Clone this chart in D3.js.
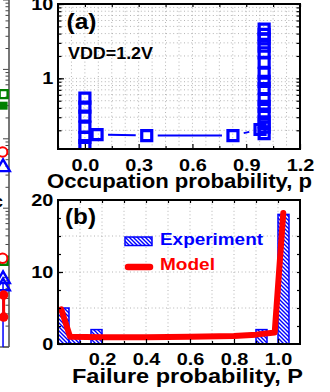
<!DOCTYPE html>
<html><head><meta charset="utf-8">
<script src="https://cdn.jsdelivr.net/npm/d3@7"></script>
<style>
html,body{margin:0;padding:0;background:#fff;}
svg{display:block;}
text{font-family:"Liberation Sans",Arial,sans-serif;font-weight:bold;fill:#000;}
</style></head><body>
<svg id="chart" width="330" height="392"></svg>
<script>
// ---- Panel (a): occupation probability per trap at VDD = 1.2 V ----
const occTicks = [0.0, 0.3, 0.6, 0.9, 1.2];
const occMinorTicks = [-0.15, 0.15, 0.45, 0.75, 1.05];
const occYTicks = [1, 10];
const occLowP = 0.0;
const occLowValues = [0.54, 0.41, 0.31, 0.22, 0.16, 0.124];
const occMidP = [0.068, 0.345, 0.826, 0.977];
const occMidValues = [0.175, 0.17, 0.17, 0.205];
const occHighP = 1.0;
const occHighValues = [4.6, 3.9, 3.4, 2.7, 2.2, 1.64, 1.17, 0.91, 0.73, 0.52, 0.42, 0.33, 0.26, 0.22, 0.18];

// ---- Panel (b): failure probability histogram and model ----
const failXTicks = [0.2, 0.4, 0.6, 0.8, 1.0];
const failYTicks = [0, 10, 20];
const failBinStart = [0.0, 0.05, 0.15, 0.9, 1.0];
const failCounts = [5, 1, 2, 2, 18];
const failBinWidth = 0.05;
const modelP = [0.015, 0.055, 0.2, 0.4, 0.6, 0.8, 0.9, 0.985, 1.024];
const modelCounts = [4.8, 1.0, 0.95, 0.95, 1.0, 1.1, 1.3, 1.6, 18.2];

// ---- Neighbouring panel, right edge only ----
const sideP = 0.97;
const sideGreenOpen = [4.4, 0.0175];
const sideGreenFilled = [3.0];
const sideRedOpen = [0.645, 0.019];
const sideBlueTri = [0.39, 0.0095, 0.0075];
const sideRedFilled = [0.0056, 0.0027];
const sideBlueStem = [0.0084, 0.001];

const BLUE = "#0000ff", RED = "#ff0000", GREEN = "#008000";
const svg = d3.select("#chart");
svg.append("rect").attr("width", 330).attr("height", 392).attr("fill", "#fff");

const defs = svg.append("defs");
const hatch = defs.append("pattern").attr("id", "hatch")
  .attr("patternUnits", "userSpaceOnUse").attr("width", 4).attr("height", 4);
hatch.append("rect").attr("width", 4).attr("height", 4).attr("fill", "#fff");
hatch.append("path").attr("d", "M-1,-1L5,5M-1,3L1,5M3,-1L5,1")
  .attr("stroke", BLUE).attr("stroke-width", 1.4);

function styleTickText(g, size, sx) {
  g.selectAll(".tick text").attr("font-size", size).attr("fill", "#000")
    .attr("font-family", '"Liberation Sans",Arial,sans-serif').attr("font-weight", "bold")
    .attr("transform", `scale(${sx},1)`);
}
function cleanAxis(g) {
  g.select(".domain").remove();
  g.selectAll(".tick line").attr("stroke", "#000").attr("stroke-width", 1.2);
}
function dottedGrid(g, lines) {
  g.selectAll("line").data(lines).join("line")
    .attr("x1", d => d[0]).attr("y1", d => d[1]).attr("x2", d => d[2]).attr("y2", d => d[3])
    .attr("stroke", "#b4b4b4").attr("stroke-width", 1).attr("stroke-dasharray", "1,2.6");
}

// ================= Neighbour panel (clipped at the left edge) =================
{
  const nx = d3.scaleLinear().domain([0, 1]).range([-190, 9]);
  const ny = d3.scaleLog().domain([1e-3, 1e2]).range([347, 0]);
  const g = svg.append("g");
  const ticks = ny.ticks();
  g.selectAll("line.t").data(ticks).join("line")
    .attr("x1", nx(1)).attr("x2", d => nx(1) - (Math.abs(Math.log10(d) % 1) < 1e-6 ? 6 : 3.5))
    .attr("y1", d => ny(d)).attr("y2", d => ny(d)).attr("stroke", "#444").attr("stroke-width", 1);
  g.append("line").attr("x1", nx(1)).attr("x2", nx(1)).attr("y1", 0).attr("y2", ny(1e-3))
    .attr("stroke", "#555").attr("stroke-width", 1.6);
  g.append("line").attr("x1", nx(0.95)).attr("x2", nx(1)).attr("y1", ny(1e-3)).attr("y2", ny(1e-3))
    .attr("stroke", "#555").attr("stroke-width", 1.4);
  g.append("line").attr("x1", nx(sideP)).attr("x2", nx(sideP))
    .attr("y1", ny(sideBlueStem[0])).attr("y2", ny(sideBlueStem[1]))
    .attr("stroke", BLUE).attr("stroke-width", 1.5);
  g.append("line").attr("x1", nx(sideP + 0.003)).attr("x2", nx(sideP + 0.003))
    .attr("y1", ny(sideRedFilled[0])).attr("y2", ny(sideRedFilled[1]))
    .attr("stroke", RED).attr("stroke-width", 3);
  const sq = d3.symbol().type(d3.symbolSquare).size(64);
  const ci = d3.symbol().type(d3.symbolCircle).size(70);
  const tr = d3.symbol().type(d3.symbolTriangle).size(80);
  g.selectAll("path.go").data(sideGreenOpen).join("path").attr("d", sq)
    .attr("transform", d => `translate(${nx(sideP + 0.003)},${ny(d)})`)
    .attr("fill", "none").attr("stroke", GREEN).attr("stroke-width", 2.4);
  g.selectAll("path.gf").data(sideGreenFilled).join("path").attr("d", sq)
    .attr("transform", d => `translate(${nx(sideP + 0.003)},${ny(d)})`).attr("fill", GREEN);
  g.selectAll("path.ro").data(sideRedOpen).join("path").attr("d", ci)
    .attr("transform", d => `translate(${nx(sideP - 0.002)},${ny(d)})`)
    .attr("fill", "#fff").attr("stroke", RED).attr("stroke-width", 2);
  g.selectAll("path.bt").data(sideBlueTri).join("path").attr("d", tr)
    .attr("transform", d => `translate(${nx(sideP)},${ny(d)})`)
    .attr("fill", "none").attr("stroke", BLUE).attr("stroke-width", 2.4);
  g.selectAll("path.rf").data(sideRedFilled).join("path").attr("d", ci)
    .attr("transform", d => `translate(${nx(sideP + 0.003)},${ny(d)})`).attr("fill", RED);
  g.append("text").attr("x", -6).attr("y", 207).attr("font-size", 16).text("c");
}

// ================= Panel (a) =================
const A = { left: 58, right: 300, top: 4, bottom: 149 };
const xA = d3.scaleLinear().domain([-0.15, 1.2]).range([A.left, A.right]);
const yA = d3.scaleLog().domain([0.112, 10]).range([A.bottom, A.top]);
{
  const g = svg.append("g");
  const hLines = yA.ticks().filter(v => v < 10).map(v => [A.left, yA(v), A.right, yA(v)]);
  const vLines = d3.range(-0.075, 1.2, 0.075).map(v => [xA(v), A.top, xA(v), A.bottom]);
  dottedGrid(g.append("g"), hLines.concat(vLines));

  defs.append("clipPath").attr("id", "clipA").append("rect")
    .attr("x", A.left).attr("y", A.top).attr("width", A.right - A.left).attr("height", A.bottom - A.top);
  const m = g.append("g").attr("clip-path", "url(#clipA)");
  // connecting line with gaps around the symbols
  const pts = occMidP.map((p, i) => [xA(p), yA(occMidValues[i])]);
  const gap = 11;
  const segs = [];
  for (let i = 0; i < pts.length - 1; i++) {
    const [x0, y0] = pts[i], [x1, y1] = pts[i + 1];
    const L = Math.hypot(x1 - x0, y1 - y0), ux = (x1 - x0) / L, uy = (y1 - y0) / L;
    if (L > 2 * gap) segs.push([x0 + ux * gap, y0 + uy * gap, x1 - ux * gap, y1 - uy * gap]);
  }
  m.selectAll("line.seg").data(segs).join("line")
    .attr("x1", d => d[0]).attr("y1", d => d[1]).attr("x2", d => d[2]).attr("y2", d => d[3])
    .attr("stroke", BLUE).attr("stroke-width", 2);
  const sym = d3.symbol().type(d3.symbolSquare).size(100);
  const all = occLowValues.map(v => [occLowP, v])
    .concat(occMidP.map((p, i) => [p, occMidValues[i]]))
    .concat(occHighValues.map(v => [occHighP, v]));
  m.selectAll("path.sq").data(all).join("path").attr("d", sym)
    .attr("transform", d => `translate(${xA(d[0])},${yA(d[1])})`)
    .attr("fill", "none").attr("stroke", BLUE).attr("stroke-width", 3.2);

  // axes with inward ticks
  const bx = g.append("g").attr("transform", `translate(0,${A.bottom})`)
    .call(d3.axisBottom(xA).tickValues(occTicks).tickSize(-5).tickPadding(9.5).tickFormat(d3.format(".1f")));
  cleanAxis(bx); styleTickText(bx, 17, 1.17);
  const bxm = g.append("g").attr("transform", `translate(0,${A.bottom})`)
    .call(d3.axisBottom(xA).tickValues(occMinorTicks).tickSize(-3).tickFormat(""));
  cleanAxis(bxm);
  const tx = g.append("g").attr("transform", `translate(0,${A.top})`)
    .call(d3.axisTop(xA).tickValues(occTicks.concat(occMinorTicks)).tickSize(-3).tickFormat(""));
  cleanAxis(tx);
  const ly = g.append("g").attr("transform", `translate(${A.left},0)`)
    .call(d3.axisLeft(yA).tickValues(occYTicks).tickSize(-6).tickPadding(4).tickFormat(d3.format("d")));
  cleanAxis(ly); styleTickText(ly, 17, 1.17);
  const lym = g.append("g").attr("transform", `translate(${A.left},0)`)
    .call(d3.axisLeft(yA).tickValues(yA.ticks()).tickSize(-3.5).tickFormat(""));
  cleanAxis(lym);
  const ry = g.append("g").attr("transform", `translate(${A.right},0)`)
    .call(d3.axisRight(yA).tickValues(yA.ticks()).tickSize(-3.5).tickFormat(""));
  cleanAxis(ry);
  g.append("rect").attr("x", A.left).attr("y", A.top).attr("width", A.right - A.left)
    .attr("height", A.bottom - A.top).attr("fill", "none").attr("stroke", "#000").attr("stroke-width", 2);

  g.append("text").attr("x", 66.5).attr("y", 29).attr("font-size", 21.5)
    .attr("textLength", 30).attr("lengthAdjust", "spacingAndGlyphs").text("(a)");
  g.append("text").attr("x", 68).attr("y", 59.3).attr("font-size", 16.3)
    .attr("textLength", 85).attr("lengthAdjust", "spacingAndGlyphs").text("VDD=1.2V");
  svg.append("text").attr("x", 179.5).attr("y", 188).attr("text-anchor", "middle").attr("font-size", 19.3)
    .attr("textLength", 265).attr("lengthAdjust", "spacingAndGlyphs").text("Occupation probability, p");
}

// ================= Panel (b) =================
const B = { left: 58, right: 300, top: 200, bottom: 344 };
const xB = d3.scaleLinear().domain([0, 1.1]).range([B.left, B.right]);
const yB = d3.scaleLinear().domain([0, 20]).range([B.bottom, B.top]);
{
  const g = svg.append("g");
  const hLines = [5, 10, 15].map(v => [B.left, yB(v), B.right, yB(v)]);
  const vLines = d3.range(0.1, 1.05, 0.1).map(v => [xB(v), B.top, xB(v), B.bottom]);
  dottedGrid(g.append("g"), hLines.concat(vLines));

  g.selectAll("rect.bar").data(failCounts).join("rect")
    .attr("x", (d, i) => xB(failBinStart[i]))
    .attr("width", (d, i) => xB(failBinStart[i] + failBinWidth) - xB(failBinStart[i]))
    .attr("y", d => yB(d)).attr("height", d => yB(0) - yB(d))
    .attr("fill", "url(#hatch)").attr("stroke", BLUE).attr("stroke-width", 1.5);

  const line = d3.line().x((d, i) => xB(modelP[i])).y(d => yB(d));
  g.append("path").attr("d", line(modelCounts)).attr("fill", "none")
    .attr("stroke", RED).attr("stroke-width", 6).attr("stroke-linejoin", "round").attr("stroke-linecap", "round");

  const bx = g.append("g").attr("transform", `translate(0,${B.bottom})`)
    .call(d3.axisBottom(xB).tickValues(failXTicks).tickSize(-5).tickPadding(9).tickFormat(d3.format(".1f")));
  cleanAxis(bx); styleTickText(bx, 17, 1.17);
  const bxm = g.append("g").attr("transform", `translate(0,${B.bottom})`)
    .call(d3.axisBottom(xB).tickValues([0.1, 0.3, 0.5, 0.7, 0.9]).tickSize(-3).tickFormat(""));
  cleanAxis(bxm);
  const tx = g.append("g").attr("transform", `translate(0,${B.top})`)
    .call(d3.axisTop(xB).tickValues(d3.range(0.1, 1.05, 0.1)).tickSize(-3).tickFormat(""));
  cleanAxis(tx);
  const ly = g.append("g").attr("transform", `translate(${B.left},0)`)
    .call(d3.axisLeft(yB).tickValues(failYTicks).tickSize(-5).tickPadding(4).tickFormat(d3.format("d")));
  cleanAxis(ly); styleTickText(ly, 17, 1.17);
  const lym = g.append("g").attr("transform", `translate(${B.left},0)`)
    .call(d3.axisLeft(yB).tickValues(d3.range(2.5, 20, 2.5)).tickSize(-3).tickFormat(""));
  cleanAxis(lym);
  const ry = g.append("g").attr("transform", `translate(${B.right},0)`)
    .call(d3.axisRight(yB).tickValues(d3.range(2.5, 20, 2.5)).tickSize(-3).tickFormat(""));
  cleanAxis(ry);
  g.append("rect").attr("x", B.left).attr("y", B.top).attr("width", B.right - B.left)
    .attr("height", B.bottom - B.top).attr("fill", "none").attr("stroke", "#000").attr("stroke-width", 2);

  g.append("text").attr("x", 65).attr("y", 224).attr("font-size", 21.5)
    .attr("textLength", 31).attr("lengthAdjust", "spacingAndGlyphs").text("(b)");

  // legend
  g.append("rect").attr("x", 125).attr("y", 237).attr("width", 27).attr("height", 8.5)
    .attr("fill", "url(#hatch)").attr("stroke", BLUE).attr("stroke-width", 1.5);
  g.append("text").attr("x", 160).attr("y", 245).attr("font-size", 16.5).style("fill", BLUE)
    .attr("textLength", 103).attr("lengthAdjust", "spacingAndGlyphs").text("Experiment");
  g.append("line").attr("x1", 128).attr("x2", 150).attr("y1", 267).attr("y2", 267)
    .attr("stroke", RED).attr("stroke-width", 6.5).attr("stroke-linecap", "round");
  g.append("text").attr("x", 160).attr("y", 270).attr("font-size", 16.5).style("fill", RED)
    .attr("textLength", 55).attr("lengthAdjust", "spacingAndGlyphs").text("Model");

  svg.append("text").attr("x", 187.5).attr("y", 383).attr("text-anchor", "middle").attr("font-size", 19.3)
    .attr("textLength", 231).attr("lengthAdjust", "spacingAndGlyphs").text("Failure probability, P");
}
</script>
</body></html>
